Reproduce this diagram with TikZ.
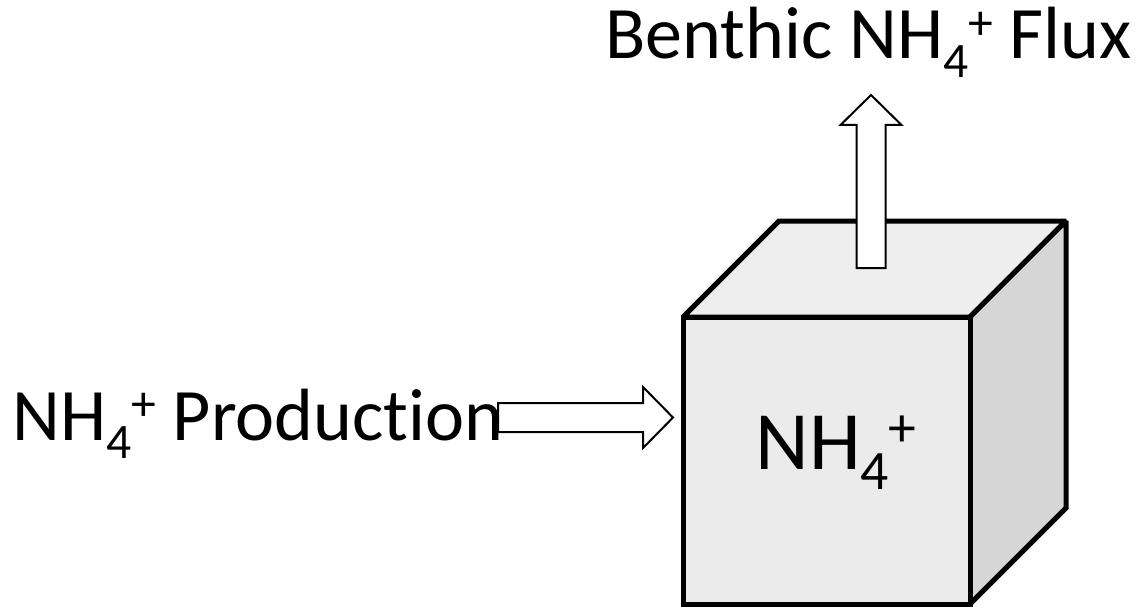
\documentclass[tikz,border=0pt]{standalone}
\usepackage{fontspec}
\setmainfont{Carlito}[Ligatures={NoCommon}]

\definecolor{frontgray}{gray}{0.92}
\definecolor{topgray}{gray}{0.935}
\definecolor{sidegray}{gray}{0.84}

\newcommand{\ammon}{NH\raisebox{-0.25em}{\scalebox{0.67}{4}}\raisebox{0.27em}{\scalebox{0.67}{+}}}

\tikzset{
    face/.style={draw=black, line width=2.5pt, line join=miter, miter limit=2},
    blockarrow/.style={draw=black, fill=white, line width=1pt, line join=miter},
    txt/.style={inner sep=0pt, anchor=base west},
}

\begin{document}
\begin{tikzpicture}[x=0.5pt, y=0.5pt]
    \useasboundingbox (0,0) rectangle (1143,606);

    % Cube corners
    \coordinate (fbl) at (683,2);
    \coordinate (fbr) at (970,2);
    \coordinate (ftr) at (970,289);
    \coordinate (ftl) at (683,289);
    \coordinate (btl) at (779,385);
    \coordinate (btr) at (1066,385);
    \coordinate (bbr) at (1066,98);

    % Faces
    \filldraw[face, fill=topgray] (ftl) -- (btl) -- (btr) -- (ftr) -- cycle;
    \filldraw[face, fill=sidegray] (ftr) -- (btr) -- (bbr) -- (fbr) -- cycle;
    \filldraw[face, fill=frontgray] (fbl) -- (fbr) -- (ftr) -- (ftl) -- cycle;
    \node[txt, font=\fontsize{41.5}{50}\selectfont] (pool) at (755,137) {\ammon};

    % Labels
    \node[txt, font=\fontsize{37}{44}\selectfont] (prod) at (12,166) {\ammon{} Production};
    \node[txt, font=\fontsize{37}{44}\selectfont] (flux) at (605,547) {Benthic \ammon{} Flux};

    % Production arrow
    \coordinate (prodtail) at (498,188.5);
    \coordinate (prodtip) at (673,188.5);
    \draw[blockarrow] (prodtail) ++(0,14.5) -- ++(145,0) -- ++(0,16) -- (prodtip)
        -- ++(-30,-30.5) -- ++(0,16) -- ++(-145,0) -- cycle;

    % Flux arrow
    \coordinate (fluxtail) at (871,338);
    \coordinate (fluxtip) at (871,511);
    \draw[blockarrow] (fluxtail) ++(-14.5,0) -- ++(0,143) -- ++(-16,0) -- (fluxtip)
        -- ++(30.5,-30) -- ++(-16,0) -- ++(0,-143) -- cycle;
\end{tikzpicture}
\end{document}
